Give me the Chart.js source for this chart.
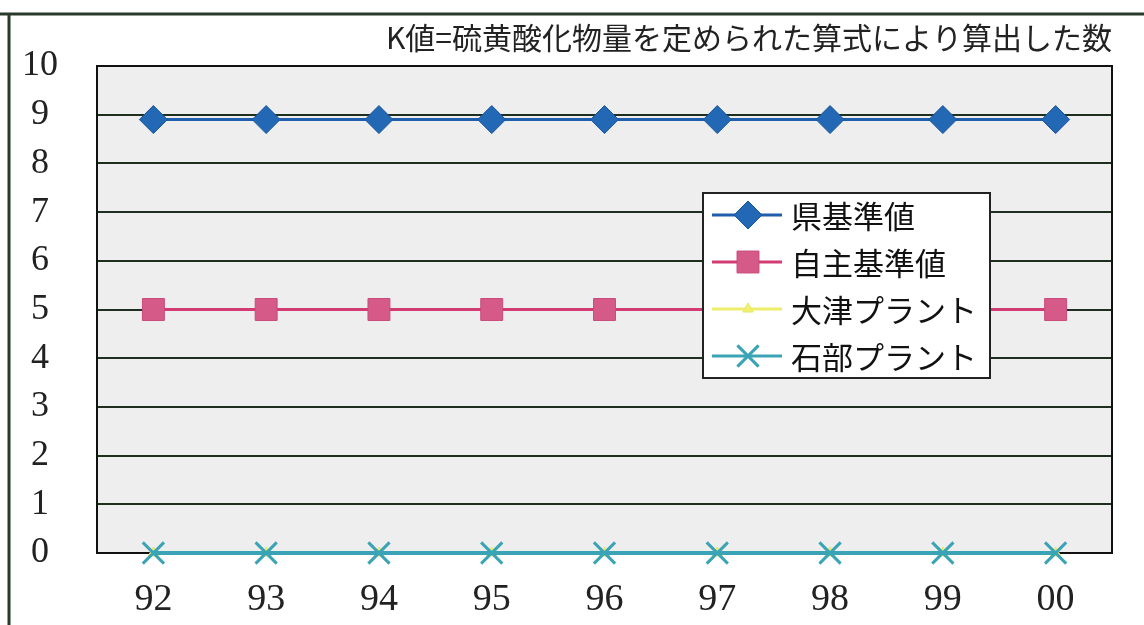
<!DOCTYPE html>
<html lang="ja">
<head>
    <meta charset="UTF-8">
    <title>K値の推移</title>
    <script src="https://cdn.jsdelivr.net/npm/chart.js"></script>
    <style>
        body { margin: 0; background: #fff; }
        #wrap { width: 1144px; height: 625px; }
    </style>
</head>
<body>
    <div id="wrap">
        <canvas id="kChart" width="1144" height="625"></canvas>
    </div>

    <script>
        // data
        const years = ["92", "93", "94", "95", "96", "97", "98", "99", "00"];
        const prefStandard = [8.9, 8.9, 8.9, 8.9, 8.9, 8.9, 8.9, 8.9, 8.9];
        const ownStandard = [5.0, 5.0, 5.0, 5.0, 5.0, 5.0, 5.0, 5.0, 5.0];
        const otsuPlant = [0, 0, 0, 0, 0, 0, 0, 0, 0];
        const ishibePlant = [0, 0, 0, 0, 0, 0, 0, 0, 0];
        const seriesNames = ["県基準値", "自主基準値", "大津プラント", "石部プラント"];
        const titleText = "K値=硫黄酸化物量を定められた算式により算出した数";

        const serif = "'Liberation Serif', 'DejaVu Serif', serif";
        const jp = "'Noto Sans CJK JP', 'Noto Sans', sans-serif";

        // grey plot background + outer frame of the scan
        const backdrop = {
            id: "backdrop",
            beforeDraw(chart) {
                const { ctx, chartArea: a } = chart;
                ctx.save();
                ctx.fillStyle = "#eeeeee";
                ctx.fillRect(a.left, a.top, a.right - a.left, a.bottom - a.top);
                ctx.strokeStyle = "#2a3a2a";
                ctx.lineWidth = 3;
                ctx.beginPath();
                ctx.moveTo(0, 14);
                ctx.lineTo(chart.width, 14);
                ctx.moveTo(9, 14);
                ctx.lineTo(9, chart.height);
                ctx.stroke();
                ctx.restore();
            },
            beforeDatasetsDraw(chart) {
                const { ctx, chartArea: a } = chart;
                ctx.save();
                ctx.strokeStyle = "#111";
                ctx.lineWidth = 2;
                ctx.strokeRect(a.left, a.top, a.right - a.left, a.bottom - a.top);
                ctx.restore();
            }
        };

        // boxed legend sitting inside the plot, as in the original
        const boxLegend = {
            id: "boxLegend",
            afterDatasetsDraw(chart, args, opts) {
                const { ctx } = chart;
                const x = opts.x, y = opts.y, w = opts.w, h = opts.h;
                ctx.save();
                ctx.fillStyle = "#fff";
                ctx.fillRect(x, y, w, h);
                ctx.strokeStyle = "#222";
                ctx.lineWidth = 2;
                ctx.strokeRect(x, y, w, h);
                chart.data.datasets.forEach((ds, i) => {
                    const cy = y + 22 + i * 47;
                    ctx.strokeStyle = ds.borderColor;
                    ctx.lineWidth = 3;
                    ctx.beginPath();
                    ctx.moveTo(x + 9, cy);
                    ctx.lineTo(x + 79, cy);
                    ctx.stroke();
                    if (Chart.helpers && Chart.helpers.drawPoint) {
                        ctx.fillStyle = ds.pointBackgroundColor;
                        ctx.strokeStyle = ds.pointBorderColor;
                        ctx.lineWidth = ds.pointBorderWidth;
                        Chart.helpers.drawPoint(ctx, {
                            pointStyle: ds.pointStyle,
                            radius: ds.pointRadius,
                            rotation: 0,
                            borderWidth: ds.pointBorderWidth
                        }, x + 45, cy);
                    }
                    ctx.fillStyle = "#111";
                    ctx.font = "31px " + jp;
                    ctx.textBaseline = "middle";
                    ctx.textAlign = "left";
                    ctx.fillText(ds.label, x + 88, cy + 1);
                });
                ctx.restore();
            }
        };

        new Chart(document.getElementById("kChart").getContext("2d"), {
            type: "line",
            data: {
                labels: years,
                datasets: [
                    {
                        label: seriesNames[0],
                        data: prefStandard,
                        order: 1,
                        borderColor: "#1f5fae",
                        borderWidth: 3,
                        pointStyle: "rectRot",
                        pointRadius: 14,
                        pointBackgroundColor: "#2368b4",
                        pointBorderColor: "#1a559c",
                        pointBorderWidth: 1,
                        clip: false
                    },
                    {
                        label: seriesNames[1],
                        data: ownStandard,
                        order: 1,
                        borderColor: "#d23c72",
                        borderWidth: 3,
                        pointStyle: "rect",
                        pointRadius: 15.5,
                        pointBackgroundColor: "#d65a88",
                        pointBorderColor: "#c94a7c",
                        pointBorderWidth: 1,
                        clip: false
                    },
                    {
                        label: seriesNames[2],
                        data: otsuPlant,
                        order: 1,
                        borderColor: "#eeee6a",
                        borderWidth: 3,
                        pointStyle: "triangle",
                        pointRadius: 6,
                        pointBackgroundColor: "#f2f070",
                        pointBorderColor: "#e8e860",
                        pointBorderWidth: 1,
                        clip: false
                    },
                    {
                        label: seriesNames[3],
                        data: ishibePlant,
                        order: 0,
                        borderColor: "#3aa4b6",
                        borderWidth: 4,
                        pointStyle: "crossRot",
                        pointRadius: 15,
                        pointBackgroundColor: "#3aa4b6",
                        pointBorderColor: "#3aa4b6",
                        pointBorderWidth: 3,
                        clip: false
                    }
                ]
            },
            options: {
                responsive: false,
                animation: false,
                layout: { padding: { left: 0, right: 32, top: 0, bottom: 4 } },
                plugins: {
                    legend: { display: false },
                    tooltip: { enabled: false },
                    title: {
                        display: true,
                        text: titleText,
                        align: "end",
                        color: "#222",
                        font: { family: jp, size: 30, weight: "normal" },
                        padding: { top: 20, bottom: 10 }
                    },
                    boxLegend: { x: 703, y: 193, w: 287, h: 185 }
                },
                scales: {
                    x: {
                        offset: true,
                        afterFit(scale) { scale.height = 68; },
                        grid: { display: false },
                        border: { color: "#111", width: 2 },
                        ticks: {
                            color: "#222",
                            padding: 16,
                            font: { family: serif, size: 38 }
                        }
                    },
                    y: {
                        min: 0,
                        max: 10,
                        afterFit(scale) { scale.width = 97; },
                        grid: { color: "#1f2f1f", lineWidth: 2, drawTicks: false },
                        border: { color: "#111", width: 2 },
                        ticks: {
                            stepSize: 1,
                            color: "#222",
                            crossAlign: "center",
                            padding: 39,
                            font: { family: serif, size: 36 }
                        }
                    }
                }
            },
            plugins: [backdrop, boxLegend]
        });
    </script>
</body>
</html>
